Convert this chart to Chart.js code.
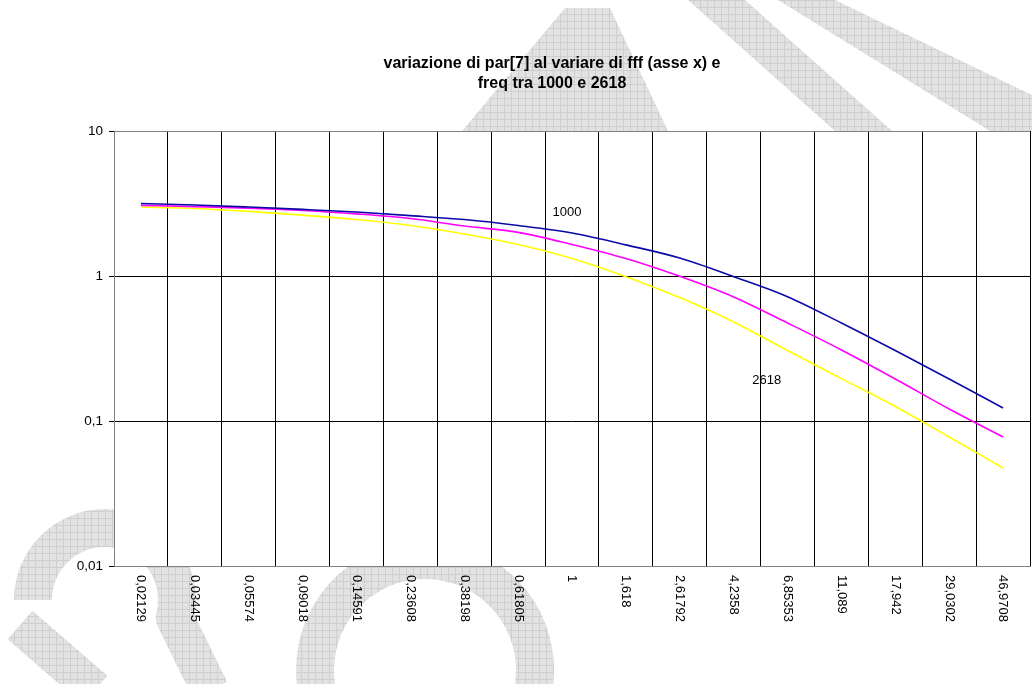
<!DOCTYPE html>
<html>
<head>
<meta charset="utf-8">
<script src="https://cdn.jsdelivr.net/npm/chart.js@4.4.1/dist/chart.umd.min.js"></script>
<style>
html,body{margin:0;padding:0;background:#fff;}
#wrap{position:relative;width:1032px;height:684px;}
</style>
</head>
<body>
<div id="wrap"><canvas id="c" width="1032" height="684"></canvas></div>
<script>
// fff values (x axis categories)
const fffLabels=['0,02129','0,03445','0,05574','0,09018','0,14591','0,23608','0,38198','0,61805','1','1,618','2,61792','4,2358','6,85353','11,089','17,942','29,0302','46,9708'];
// par[7] for the three frequencies
const par1000=[3.16,3.09,2.99,2.88,2.76,2.61,2.45,2.23,1.98,1.64,1.33,0.99,0.72,0.474,0.306,0.195,0.123];
const parMid=[3.07,3.01,2.94,2.83,2.68,2.49,2.21,2.0,1.65,1.32,0.995,0.717,0.474,0.309,0.195,0.121,0.0776];
const par2618=[2.99,2.92,2.79,2.63,2.45,2.23,1.95,1.65,1.32,0.99,0.71,0.482,0.306,0.196,0.126,0.0776,0.0474];
const yTicks=[0.01,0.1,1,10];
const titleLines=['variazione di par[7] al variare di fff (asse x) e','freq tra 1000 e 2618'];

const FONT='"Liberation Sans", Arial, sans-serif';
const fmt=v=>String(v).replace('.',',');

function wmPattern(ctx){
  const t=document.createElement('canvas');t.width=7;t.height=7;
  const g=t.getContext('2d');
  g.fillStyle='#e2e2e2';g.fillRect(0,0,7,7);
  g.fillStyle='#cfcfcf';g.fillRect(0,0,7,1);g.fillRect(0,0,1,7);
  return ctx.createPattern(t,'repeat');
}

// grey "draft" watermark behind the plot, plot area itself stays white
const watermark={
  id:'watermark',
  beforeDraw(chart){
    const ctx=chart.ctx,a=chart.chartArea;
    ctx.save();
    const p=wmPattern(ctx);
    ctx.fillStyle=p;ctx.strokeStyle=p;
    ctx.beginPath();ctx.moveTo(462,131);ctx.lineTo(565,8);ctx.lineTo(610,8);ctx.lineTo(668,131);ctx.closePath();ctx.fill();
    ctx.beginPath();ctx.moveTo(688,0);ctx.lineTo(745,0);ctx.lineTo(892,131);ctx.lineTo(835,131);ctx.closePath();ctx.fill();
    ctx.beginPath();ctx.moveTo(778,0);ctx.lineTo(835,0);ctx.lineTo(1032,95);ctx.lineTo(1032,131);ctx.lineTo(990,131);ctx.closePath();ctx.fill();
    ctx.lineWidth=38;ctx.lineCap='butt';ctx.lineJoin='round';
    ctx.beginPath();ctx.arc(105,600,72,Math.PI*1.0,Math.PI*2.08);ctx.lineTo(210,690);ctx.stroke();
    ctx.beginPath();ctx.moveTo(20,625);ctx.lineTo(95,690);ctx.stroke();
    ctx.beginPath();ctx.arc(425,670,110,Math.PI*0.95,Math.PI*2.05);ctx.stroke();
    ctx.restore();
    ctx.save();ctx.fillStyle='#fff';ctx.fillRect(a.left,a.top,a.right-a.left,a.bottom-a.top);ctx.restore();
  }
};

const texts={
  id:'texts',
  afterDraw(chart){
    const ctx=chart.ctx,xs=chart.scales.x,ys=chart.scales.y,a=chart.chartArea;
    ctx.save();
    ctx.fillStyle='#000';
    ctx.font='bold 16px '+FONT;ctx.textAlign='center';ctx.textBaseline='middle';
    ctx.fillText(titleLines[0],552,64);
    ctx.fillText(titleLines[1],552,84);
    // x tick labels, turned clockwise
    ctx.font='13px '+FONT;
    fffLabels.forEach((l,i)=>{
      ctx.save();
      ctx.translate(xs.getPixelForTick(i),a.bottom+9);
      ctx.rotate(Math.PI/2);
      ctx.textAlign='left';ctx.textBaseline='middle';
      ctx.fillText(l,0,0);
      ctx.restore();
    });
    ctx.textAlign='center';ctx.textBaseline='middle';
    ctx.fillText('1000',xs.getPixelForValue(8)-5,ys.getPixelForValue(2.76));
    ctx.fillText('2618',xs.getPixelForValue(11)+33,ys.getPixelForValue(0.189));
    ctx.restore();
  }
};

new Chart(document.getElementById('c'),{
  type:'line',
  data:{labels:fffLabels,datasets:[
    {label:'1000',data:par1000,borderColor:'#0a0aa8',borderWidth:1.6,pointRadius:0,cubicInterpolationMode:'monotone'},
    {label:'1618',data:parMid,borderColor:'#ff00ff',borderWidth:1.6,pointRadius:0,cubicInterpolationMode:'monotone'},
    {label:'2618',data:par2618,borderColor:'#ffff00',borderWidth:1.6,pointRadius:0,cubicInterpolationMode:'monotone'}
  ]},
  options:{
    responsive:false,animation:false,devicePixelRatio:1,
    layout:{padding:{top:131,right:2,left:0,bottom:0}},
    plugins:{legend:{display:false},title:{display:false},tooltip:{enabled:false}},
    scales:{
      x:{
        type:'category',offset:true,
        grid:{offset:true,drawTicks:false,lineWidth:1,
          color:c=>(c.index===0||c.index>=fffLabels.length)?'#808080':'#000'},
        border:{display:true,color:'#808080',width:1},
        ticks:{display:false},
        afterFit(s){s.height=118;}
      },
      y:{
        type:'logarithmic',min:0.01,max:10,
        afterBuildTicks(s){s.ticks=yTicks.map(v=>({value:v}));},
        grid:{drawTicks:true,tickLength:5,tickColor:'#000',
          color:c=>(c.tick&&(c.tick.value===1||c.tick.value===0.1))?'#000':'#808080'},
        border:{display:true,color:'#808080',width:1},
        ticks:{padding:6,color:'#000',font:{family:FONT,size:13.5},autoSkip:false,callback:v=>fmt(v)},
        afterFit(s){s.width=114;}
      }
    }
  },
  plugins:[watermark,texts]
});
</script>
</body>
</html>
